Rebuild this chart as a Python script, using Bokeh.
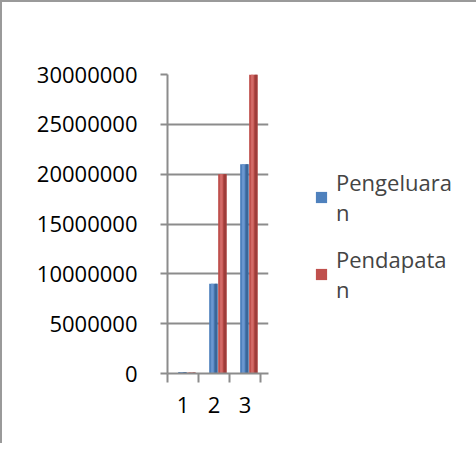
from bokeh.plotting import figure
from bokeh.models import (Range1d, FixedTicker, Legend, LegendItem, ColumnDataSource,
                          NumeralTickFormatter)
from bokeh.transform import dodge
from bokeh.embed import file_html
from bokeh.resources import INLINE

categories = ["1", "2", "3"]
pengeluaran = [150000, 9000000, 21000000]
pendapatan = [100000, 20000000, 30000000]
y_ticks = [0, 5000000, 10000000, 15000000, 20000000, 25000000, 30000000]

xpos = [i + 1 for i in range(len(categories))]
src = ColumnDataSource(dict(x=xpos, peng=pengeluaran, pend=pendapatan))

FONT = "Open Sans"
GREY = "#8c8c8c"

p = figure(frame_width=101, frame_height=299, output_backend="svg", toolbar_location=None,
           x_range=Range1d(0.5, 3.76), y_range=Range1d(0, 30000000),
           min_border_left=165, min_border_right=0, min_border_top=72, min_border_bottom=70)
p.outline_line_color = None
p.styles = {"border-left": "2px solid #9a9a9a", "border-top": "2px solid #9a9a9a"}

BW = 0.27
def cyl(col, off, base, dark, light):
    r = p.vbar(x=dodge("x", off, range=p.x_range), top=col, width=BW, bottom=0,
               source=src, fill_color=base, line_color=None)
    p.vbar(x=dodge("x", off + BW * 0.32, range=p.x_range), top=col, width=BW * 0.36, bottom=0,
           source=src, fill_color=dark, line_color=None)
    p.vbar(x=dodge("x", off - BW * 0.12, range=p.x_range), top=col, width=BW * 0.3, bottom=0,
           source=src, fill_color=light, line_color=None)
    return r

rb = cyl("peng", -0.02, "#4F81BD", "#3B6699", "#6B97D0")
rr = cyl("pend", 0.27, "#C0504D", "#9E3D3A", "#D26B68")

p.xaxis.ticker = FixedTicker(ticks=xpos, minor_ticks=[0.5, 1.5, 2.5, 3.5])
p.xaxis.major_label_overrides = {x: c for x, c in zip(xpos, categories)}
p.xaxis.major_tick_line_color = None
p.xaxis.minor_tick_line_color = GREY
p.xaxis.minor_tick_line_width = 2
p.xaxis.minor_tick_in = 0
p.xaxis.minor_tick_out = 9
p.xaxis.axis_line_color = GREY
p.xaxis.axis_line_width = 2
p.xaxis.major_label_standoff = 14

p.yaxis.ticker = FixedTicker(ticks=y_ticks)
p.yaxis.formatter = NumeralTickFormatter(format="0")
p.yaxis.minor_tick_line_color = None
p.yaxis.major_tick_in = 0
p.yaxis.major_tick_out = 7
p.yaxis.major_tick_line_color = GREY
p.yaxis.major_tick_line_width = 2
p.yaxis.axis_line_color = GREY
p.yaxis.axis_line_width = 2
p.yaxis.major_label_standoff = 23

for ax in (p.xaxis, p.yaxis):
    ax.major_label_text_font = FONT
    ax.major_label_text_font_size = "22px"
    ax.major_label_text_color = "#000000"

p.xgrid.grid_line_color = None
p.ygrid.grid_line_color = GREY
p.ygrid.grid_line_width = 2
p.ygrid.ticker = FixedTicker(ticks=y_ticks)

legend = Legend(items=[LegendItem(label="Pengeluara\nn", renderers=[rb]),
                       LegendItem(label="Pendapata\nn", renderers=[rr])],
                location=(46, 69), orientation="vertical")
legend.label_text_font = FONT
legend.label_text_font_size = "22px"
legend.label_text_line_height = 1.55
legend.glyph_width = 14
legend.glyph_height = 14
legend.border_line_color = None
legend.background_fill_alpha = 0
legend.margin = 0
legend.padding = 0
legend.spacing = 17
legend.label_standoff = 8
p.add_layout(legend, "right")

open("out.html", "w").write(file_html(p, INLINE))
